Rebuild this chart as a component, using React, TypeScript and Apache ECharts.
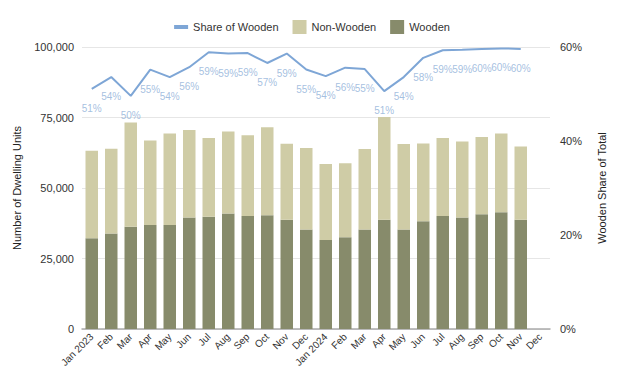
import React, { useEffect, useRef } from "react";
import * as echarts from "echarts";

const categories = [
  "Jan 2023", "Feb", "Mar", "Apr", "May", "Jun", "Jul", "Aug", "Sep", "Oct", "Nov", "Dec",
  "Jan 2024", "Feb", "Mar", "Apr", "May", "Jun", "Jul", "Aug", "Sep", "Oct", "Nov", "Dec",
];
const wooden = [
  32200, 33900, 36300, 36900, 36900, 39500, 39800, 41000, 40100, 40300, 38700, 35300,
  31600, 32500, 35300, 38700, 35300, 38200, 40100, 39500, 40700, 41400, 38700, null,
];
const nonWooden = [
  31000, 30000, 36900, 29900, 32400, 31100, 27900, 29000, 28600, 31200, 27000, 28900,
  26900, 26300, 28500, 36500, 30300, 27600, 27600, 27000, 27400, 27900, 26000, null,
];
const share = [
  51.1, 53.6, 49.6, 55.2, 53.6, 55.7, 58.9, 58.6, 58.7, 56.6, 58.6, 55.2,
  53.8, 55.6, 55.3, 50.6, 53.6, 57.7, 59.3, 59.4, 59.6, 59.7, 59.6, null,
];
const leftTicks = [0, 25000, 50000, 75000, 100000];
const rightTicks = [0, 20, 40, 60];

const FONT = "Liberation Sans";

export default function App() {
  const ref = useRef<HTMLDivElement>(null);
  useEffect(() => {
    document.body.style.margin = "0";
    if (!ref.current) return;
    const chart = echarts.init(ref.current, undefined, { renderer: "svg" });
    chart.setOption({
      animation: false,
      textStyle: { fontFamily: FONT },
      legend: {
        top: 15,
        left: "center",
        itemGap: 14,
        itemWidth: 14,
        itemHeight: 14,
        textStyle: { fontFamily: FONT, fontSize: 11, color: "#333" },
        data: [
          {
            name: "Share of Wooden",
            icon: "path://M0,0 L14,0 L14,4 L0,4 Z",
            lineStyle: { width: 4 },
          },
          { name: "Non-Wooden", icon: "rect" },
          { name: "Wooden", icon: "rect" },
        ],
      },
      grid: { left: 82, right: 74, top: 47, bottom: 63 },
      xAxis: {
        type: "category",
        data: categories,
        axisTick: { show: false },
        axisLine: { lineStyle: { color: "#aaa", width: 1.5 } },
        axisLabel: { rotate: 45, fontSize: 10, color: "#333", interval: 0, fontFamily: FONT, margin: 6 },
      },
      yAxis: [
        {
          type: "value",
          min: leftTicks[0],
          max: leftTicks[leftTicks.length - 1],
          interval: 25000,
          name: "Number of Dwelling Units",
          nameLocation: "middle",
          nameGap: 60,
          nameTextStyle: { fontSize: 11, color: "#222", fontFamily: FONT },
          axisLabel: {
            fontSize: 11,
            color: "#333",
            fontFamily: FONT,
            formatter: (v: number) => v.toLocaleString("en-US"),
          },
          splitLine: { lineStyle: { color: "#e6e6e6" } },
          axisLine: { show: false },
          axisTick: { show: false },
        },
        {
          type: "value",
          min: rightTicks[0],
          max: rightTicks[rightTicks.length - 1],
          interval: 20,
          name: "Wooden Share of Total",
          nameLocation: "middle",
          nameGap: 46,
          nameRotate: 90,
          nameTextStyle: { fontSize: 11, color: "#222", fontFamily: FONT },
          axisLabel: { fontSize: 11, color: "#333", fontFamily: FONT, formatter: "{value}%", margin: 10 },
          splitLine: { show: false },
          axisLine: { show: false },
          axisTick: { show: false },
        },
      ],
      series: [
        {
          name: "Wooden",
          type: "bar",
          stack: "total",
          data: wooden,
          barWidth: 12.5,
          itemStyle: { color: "#878b6b" },
        },
        {
          name: "Non-Wooden",
          type: "bar",
          stack: "total",
          data: nonWooden,
          barWidth: 12.5,
          itemStyle: { color: "#cfcca6" },
        },
        {
          name: "Share of Wooden",
          type: "line",
          yAxisIndex: 1,
          data: share,
          symbol: "none",
          lineStyle: { color: "#7ea6d6", width: 2 },
          itemStyle: { color: "#7ea6d6" },
          z: 5,
        },
        {
          name: "Share labels",
          type: "scatter",
          yAxisIndex: 1,
          data: share,
          symbol: "circle",
          symbolSize: 1,
          itemStyle: { color: "rgba(0,0,0,0)" },
          silent: true,
          label: {
            show: true,
            position: "bottom",
            distance: 14,
            fontSize: 10,
            color: "#8eafd8",
            fontFamily: FONT,
            formatter: (p: any) => Math.round(p.value) + "%",
          },
          z: 6,
        },
      ],
    });
    return () => chart.dispose();
  }, []);
  return <div ref={ref} style={{ width: 624, height: 392 }} />;
}
